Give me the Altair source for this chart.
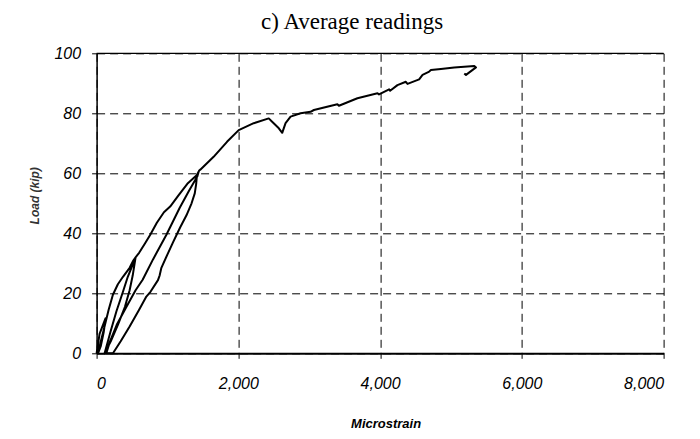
import altair as alt
import pandas as pd

# Average readings: load vs microstrain (traced path, in drawing order)
microstrain = [
    0, 42, 127,                                   # first small load cycle
    100, 60, 20,                                  # unload
    60, 113, 170, 230, 300, 372, 466, 520, 550,   # load to 32 kip
    537, 500, 440, 372, 280, 200, 113,            # unload from 32
    200, 300, 400, 466, 510, 550,                 # reload to 32
    600, 680, 755, 850, 950, 1038, 1150, 1280, 1416, 1440,  # envelope to 60
    1420, 1300, 1173, 985, 796, 650, 550, 410, 284, 190, 137,  # unload from 60
    231,                                          # residual
    340, 466, 600, 702, 760, 866, 890, 914, 1000, 1078, 1180, 1268, 1340, 1385, 1405, 1416, 1450,  # reload
    1463, 1651, 1840, 2005, 2217, 2429, 2477, 2571, 2619, 2666, 2737, 2878, 3019,
    3066, 3397, 3419, 3680, 3963, 3985, 4127, 4141, 4245, 4363, 4387, 4551, 4599, 4693,
    4717, 4858, 5046, 5329, 5353, 5212, 5188,
]
load = [
    0, 6.5, 11.7,
    7, 2.5, 0,
    4, 9, 14.5, 19.5, 23, 25.5, 28.5, 31, 32,
    31, 29, 25.5, 20.5, 14, 7.5, 0,
    4, 9.5, 15.5, 21, 26, 32,
    33.5, 36.5, 39.4, 43.5, 47, 48.9, 52.5, 56.5, 59.4, 60.5,
    58.9, 54, 48.5, 39.5, 31.3, 24.5, 21, 15, 9.5, 4, 0,
    0,
    4, 8.9, 14.5, 18.9, 20.5, 24.4, 26, 28.5, 33, 37, 42, 46, 50, 53.3, 56.5, 59.5, 61,
    61.2, 65.5, 70.5, 74.4, 76.7, 78.3, 77.2, 75, 73.5, 76.7, 78.9, 80, 80.5,
    81.1, 83, 82.5, 85, 86.7, 86.3, 88, 87.5, 89.4, 90.5, 89.8, 91.3, 92.8, 93.9,
    94.4, 94.8, 95.3, 95.8, 95.3, 92.8, 93.3,
]

x_ticks = [0, 2000, 4000, 6000, 8000]
y_ticks = [0, 20, 40, 60, 80, 100]

df = pd.DataFrame({"order": list(range(len(microstrain))), "x": microstrain, "y": load})

W, H = 567, 300

x_axis = alt.Axis(
    values=x_ticks, format=",.0f", title="Microstrain",
    labelFont="Liberation Sans", labelFontStyle="italic", labelFontSize=16, labelColor="black",
    labelPadding=17, tickSize=5, tickColor="black",
    domainColor="black", domainWidth=2,
    grid=True, gridColor="black", gridDash=[8, 5], gridWidth=1, gridOpacity=1,
    titleFont="Liberation Sans", titleFontStyle="italic", titleFontWeight="bold",
    titleFontSize=13, titleColor="black",
    titleX=289, titleY=70, titleBaseline="middle", titleAlign="center",
)
y_axis = alt.Axis(
    values=y_ticks, format="d", title="Load (kip)",
    labelFont="Liberation Sans", labelFontStyle="italic", labelFontSize=16, labelColor="black",
    labelPadding=11, tickSize=5, tickColor="black",
    domainColor="black", domainWidth=1.5,
    grid=True, gridColor="black", gridDash=[8, 5], gridWidth=1, gridOpacity=1,
    titleFont="Liberation Sans", titleFontStyle="italic", titleFontWeight="bold",
    titleFontSize=12, titleColor="#333333",
    titleX=-62, titleY=142, titleBaseline="middle", titleAlign="center", titleAngle=270,
)

line = alt.Chart(df).mark_line(color="black", strokeWidth=2, strokeJoin="round").encode(
    x=alt.X("x:Q", scale=alt.Scale(domain=[0, 8000], nice=False), axis=x_axis),
    y=alt.Y("y:Q", scale=alt.Scale(domain=[0, 100], nice=False), axis=y_axis),
    order="order:Q",
)

# solid frame line along the top of the plot area (at load = 100)
top = alt.Chart(pd.DataFrame({"y": [100]})).mark_rule(color="black", strokeWidth=1.2).encode(
    y=alt.Y("y:Q"),
)

chart = alt.layer(line, top).properties(
    width=W, height=H,
    title=alt.TitleParams(
        "c) Average readings", font="Liberation Serif", fontSize=23, fontWeight="normal",
        color="black", anchor="middle", dx=-28, offset=11,
    ),
    padding={"left": 88.6, "top": 45.3, "right": 28, "bottom": 86},
    autosize=alt.AutoSizeParams(type="none"),
).configure_view(stroke=None)

chart.save("out.html", embed_options={"renderer": "svg", "actions": False})
